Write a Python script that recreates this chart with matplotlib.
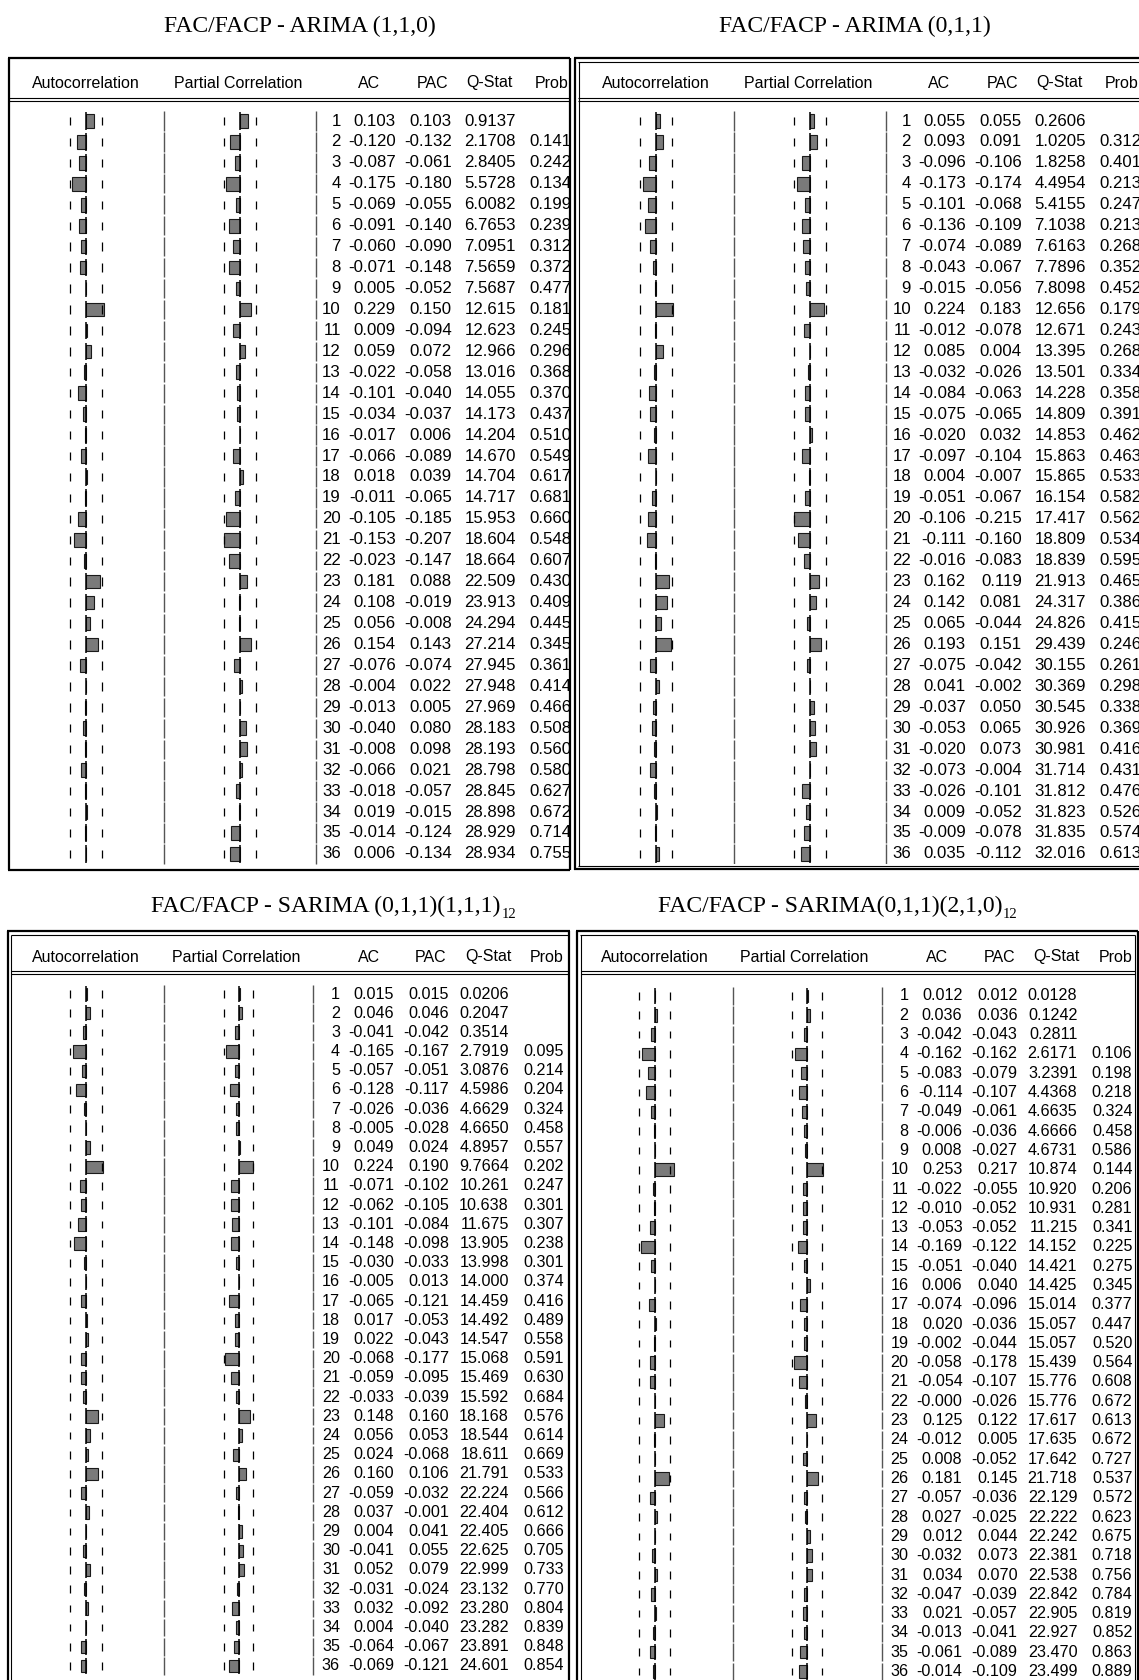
import numpy as np
import matplotlib
matplotlib.use("Agg")
import matplotlib.pyplot as plt

plt.rcParams['font.family'] = 'Liberation Sans'

W, H = 1139, 1680
lags = np.arange(1, 37)

titles = ["FAC/FACP - ARIMA (1,1,0)",
          "FAC/FACP - ARIMA (0,1,1)",
          "FAC/FACP - SARIMA (0,1,1)(1,1,1)",
          "FAC/FACP - SARIMA(0,1,1)(2,1,0)"]
subscripts = ["", "", "12", "12"]
headers = ["Autocorrelation", "Partial Correlation", "AC", "PAC", "Q-Stat", "Prob"]
na = np.nan

# ARIMA (1,1,0)
ac_a = [0.103, -0.120, -0.087, -0.175, -0.069, -0.091, -0.060, -0.071, 0.005, 0.229,
        0.009, 0.059, -0.022, -0.101, -0.034, -0.017, -0.066, 0.018, -0.011, -0.105,
        -0.153, -0.023, 0.181, 0.108, 0.056, 0.154, -0.076, -0.004, -0.013, -0.040,
        -0.008, -0.066, -0.018, 0.019, -0.014, 0.006]
pac_a = [0.103, -0.132, -0.061, -0.180, -0.055, -0.140, -0.090, -0.148, -0.052, 0.150,
         -0.094, 0.072, -0.058, -0.040, -0.037, 0.006, -0.089, 0.039, -0.065, -0.185,
         -0.207, -0.147, 0.088, -0.019, -0.008, 0.143, -0.074, 0.022, 0.005, 0.080,
         0.098, 0.021, -0.057, -0.015, -0.124, -0.134]
q_a = [0.9137, 2.1708, 2.8405, 5.5728, 6.0082, 6.7653, 7.0951, 7.5659, 7.5687, 12.615,
       12.623, 12.966, 13.016, 14.055, 14.173, 14.204, 14.670, 14.704, 14.717, 15.953,
       18.604, 18.664, 22.509, 23.913, 24.294, 27.214, 27.945, 27.948, 27.969, 28.183,
       28.193, 28.798, 28.845, 28.898, 28.929, 28.934]
prob_a = [na, 0.141, 0.242, 0.134, 0.199, 0.239, 0.312, 0.372, 0.477, 0.181,
          0.245, 0.296, 0.368, 0.370, 0.437, 0.510, 0.549, 0.617, 0.681, 0.660,
          0.548, 0.607, 0.430, 0.409, 0.445, 0.345, 0.361, 0.414, 0.466, 0.508,
          0.560, 0.580, 0.627, 0.672, 0.714, 0.755]

# ARIMA (0,1,1)
ac_b = [0.055, 0.093, -0.096, -0.173, -0.101, -0.136, -0.074, -0.043, -0.015, 0.224,
        -0.012, 0.085, -0.032, -0.084, -0.075, -0.020, -0.097, 0.004, -0.051, -0.106,
        -0.111, -0.016, 0.162, 0.142, 0.065, 0.193, -0.075, 0.041, -0.037, -0.053,
        -0.020, -0.073, -0.026, 0.009, -0.009, 0.035]
pac_b = [0.055, 0.091, -0.106, -0.174, -0.068, -0.109, -0.089, -0.067, -0.056, 0.183,
         -0.078, 0.004, -0.026, -0.063, -0.065, 0.032, -0.104, -0.007, -0.067, -0.215,
         -0.160, -0.083, 0.119, 0.081, -0.044, 0.151, -0.042, -0.002, 0.050, 0.065,
         0.073, -0.004, -0.101, -0.052, -0.078, -0.112]
q_b = [0.2606, 1.0205, 1.8258, 4.4954, 5.4155, 7.1038, 7.6163, 7.7896, 7.8098, 12.656,
       12.671, 13.395, 13.501, 14.228, 14.809, 14.853, 15.863, 15.865, 16.154, 17.417,
       18.809, 18.839, 21.913, 24.317, 24.826, 29.439, 30.155, 30.369, 30.545, 30.926,
       30.981, 31.714, 31.812, 31.823, 31.835, 32.016]
prob_b = [na, 0.312, 0.401, 0.213, 0.247, 0.213, 0.268, 0.352, 0.452, 0.179,
          0.243, 0.268, 0.334, 0.358, 0.391, 0.462, 0.463, 0.533, 0.582, 0.562,
          0.534, 0.595, 0.465, 0.386, 0.415, 0.246, 0.261, 0.298, 0.338, 0.369,
          0.416, 0.431, 0.476, 0.526, 0.574, 0.613]

# SARIMA (0,1,1)(1,1,1)12
ac_c = [0.015, 0.046, -0.041, -0.165, -0.057, -0.128, -0.026, -0.005, 0.049, 0.224,
        -0.071, -0.062, -0.101, -0.148, -0.030, -0.005, -0.065, 0.017, 0.022, -0.068,
        -0.059, -0.033, 0.148, 0.056, 0.024, 0.160, -0.059, 0.037, 0.004, -0.041,
        0.052, -0.031, 0.032, 0.004, -0.064, -0.069]
pac_c = [0.015, 0.046, -0.042, -0.167, -0.051, -0.117, -0.036, -0.028, 0.024, 0.190,
         -0.102, -0.105, -0.084, -0.098, -0.033, 0.013, -0.121, -0.053, -0.043, -0.177,
         -0.095, -0.039, 0.160, 0.053, -0.068, 0.106, -0.032, -0.001, 0.041, 0.055,
         0.079, -0.024, -0.092, -0.040, -0.067, -0.121]
q_c = [0.0206, 0.2047, 0.3514, 2.7919, 3.0876, 4.5986, 4.6629, 4.6650, 4.8957, 9.7664,
       10.261, 10.638, 11.675, 13.905, 13.998, 14.000, 14.459, 14.492, 14.547, 15.068,
       15.469, 15.592, 18.168, 18.544, 18.611, 21.791, 22.224, 22.404, 22.405, 22.625,
       22.999, 23.132, 23.280, 23.282, 23.891, 24.601]
prob_c = [na, na, na, 0.095, 0.214, 0.204, 0.324, 0.458, 0.557, 0.202,
          0.247, 0.301, 0.307, 0.238, 0.301, 0.374, 0.416, 0.489, 0.558, 0.591,
          0.630, 0.684, 0.576, 0.614, 0.669, 0.533, 0.566, 0.612, 0.666, 0.705,
          0.733, 0.770, 0.804, 0.839, 0.848, 0.854]

# SARIMA(0,1,1)(2,1,0)12
ac_d = [0.012, 0.036, -0.042, -0.162, -0.083, -0.114, -0.049, -0.006, 0.008, 0.253,
        -0.022, -0.010, -0.053, -0.169, -0.051, 0.006, -0.074, 0.020, -0.002, -0.058,
        -0.054, -0.0, 0.125, -0.012, 0.008, 0.181, -0.057, 0.027, 0.012, -0.032,
        0.034, -0.047, 0.021, -0.013, -0.061, -0.014]
pac_d = [0.012, 0.036, -0.043, -0.162, -0.079, -0.107, -0.061, -0.036, -0.027, 0.217,
         -0.055, -0.052, -0.052, -0.122, -0.040, 0.040, -0.096, -0.036, -0.044, -0.178,
         -0.107, -0.026, 0.122, 0.005, -0.052, 0.145, -0.036, -0.025, 0.044, 0.073,
         0.070, -0.039, -0.057, -0.041, -0.089, -0.109]
q_d = [0.0128, 0.1242, 0.2811, 2.6171, 3.2391, 4.4368, 4.6635, 4.6666, 4.6731, 10.874,
       10.920, 10.931, 11.215, 14.152, 14.421, 14.425, 15.014, 15.057, 15.057, 15.439,
       15.776, 15.776, 17.617, 17.635, 17.642, 21.718, 22.129, 22.222, 22.242, 22.381,
       22.538, 22.842, 22.905, 22.927, 23.470, 23.499]
prob_d = [na, na, na, 0.106, 0.198, 0.218, 0.324, 0.458, 0.586, 0.144,
          0.206, 0.281, 0.341, 0.225, 0.275, 0.345, 0.377, 0.447, 0.520, 0.564,
          0.608, 0.672, 0.613, 0.672, 0.727, 0.537, 0.572, 0.623, 0.675, 0.718,
          0.756, 0.784, 0.819, 0.852, 0.863, 0.889]

series = [(ac_a, pac_a, q_a, prob_a), (ac_b, pac_b, q_b, prob_b),
          (ac_c, pac_c, q_c, prob_c), (ac_d, pac_d, q_d, prob_d)]

# layout of each panel, in pixels of the output image
top_cols = (333, 388, 444, 508, 564)
bot_cols = (332, 386, 441, 501, 556)
top_head = (78, 230, 361, 425, 481, 560)
bot_head = (78, 228, 361, 423, 480, 539)
layouts = [
    dict(x0=8, tx=300, ty=26, head=83, body_top=102, body_bot=867, row1=121, step=20.94,
         clip=569, sep2=308, bound=0.21, cols=top_cols, hcols=top_head, fs=12.1),
    dict(x0=578, tx=855, ty=26, head=83, body_top=102, body_bot=864, row1=121, step=20.94,
         clip=W, sep2=308, bound=0.21, cols=top_cols, hcols=top_head, fs=12.1),
    dict(x0=8, tx=326, ty=906, head=957, body_top=975, body_bot=H, row1=994, step=19.2,
         clip=567, sep2=305, bound=0.2, cols=bot_cols, hcols=bot_head, fs=11.6),
    dict(x0=576.5, tx=830, ty=906, head=957, body_top=975, body_bot=H, row1=996, step=19.3,
         clip=1133, sep2=305, bound=0.2, cols=bot_cols, hcols=bot_head, fs=11.6),
]

fig = plt.figure(figsize=(W / 100, H / 100), dpi=100)
bg = fig.add_axes([0, 0, 1, 1])
bg.set_xlim(0, W)
bg.set_ylim(H, 0)
bg.axis('off')

THICK, THIN = 1.6, 0.8


def hl(x0, x1, y, lw):
    bg.plot([x0, x1], [y, y], color='black', lw=lw, solid_capstyle='butt')


def vl(x, y0, y1, lw):
    bg.plot([x, x], [y0, y1], color='black', lw=lw, solid_capstyle='butt')


# frames
hl(8, 570, 58, THICK); vl(8.5, 58, 870, THICK); vl(569.5, 58, 870, THICK); hl(8, 570, 869.5, THICK)
hl(8, 570, 97.5, THIN); hl(8, 570, 100.5, THIN)

hl(574, W, 58, THICK); hl(578, W, 61.5, THIN)
vl(575, 58, 869.5, THICK); vl(578.5, 61.5, 866, THIN)
hl(574, W, 869, THICK); hl(578, W, 865.5, THIN)
hl(578, W, 97.5, THIN); hl(578, W, 100.5, THIN)

hl(7, 570, 931, THICK); hl(10.5, 569, 934.5, THIN)
vl(7.5, 931, H, THICK); vl(10.5, 934.5, H, THIN); vl(569, 931, H, THICK)
hl(10.5, 569, 970.5, THIN); hl(10.5, 569, 973.5, THIN)

hl(576, 1138, 931, THICK); hl(579.5, 1135, 934.5, THIN)
vl(577, 931, H, THICK); vl(580.5, 934.5, H, THIN)
vl(1137.5, 931, H, THICK); vl(1134.5, 934.5, H, THIN)
hl(580.5, 1134.5, 970.5, THIN); hl(580.5, 1134.5, 973.5, THIN)


def to_fig(x0, y0, x1, y1):
    return [x0 / W, 1 - y1 / H, (x1 - x0) / W, (y1 - y0) / H]


def fmt_q(v):
    return f"{v:.4f}" if v < 10 else f"{v:.3f}"


for k, (title, sub, lay, (ac, pac, q, prob)) in enumerate(zip(titles, subscripts, layouts, series)):
    x0 = lay['x0']
    t = bg.text(lay['tx'], lay['ty'], title, ha='center', va='center', fontsize=17.0,
                family='Liberation Serif')
    if sub:
        bg.annotate(sub, xy=(1, 0.12), xycoords=t, xytext=(0.5, 0), textcoords='offset points',
                    ha='left', va='center', fontsize=10.5, family='Liberation Serif')
    for j, (lab, off) in enumerate(zip(headers, lay['hcols'])):
        ha = 'right' if (j == 5 and k < 2) else 'center'
        bg.text(x0 + off, lay['head'], lab, ha=ha, va='center', fontsize=11.5)

    def lag_at(y):
        return 1 + (y - lay['row1']) / lay['step']

    ylim = (lag_at(lay['body_bot']), lag_at(lay['body_top']))
    body = fig.add_axes(to_fig(x0, lay['body_top'], lay['clip'], lay['body_bot']))
    body.set_xlim(0, lay['clip'] - x0)
    body.set_ylim(*ylim)
    body.axis('off')

    # column separators
    for sx in (156, lay['sep2']):
        body.vlines(np.full(36, sx), lags - 0.46, lags + 0.46, color='#555555', lw=1.0)

    lag_r, ac_r, pac_r, q_r, p_r = lay['cols']
    for i, lag in enumerate(lags):
        kw = dict(ha='right', va='center', fontsize=lay['fs'], clip_on=True)
        body.text(lag_r, lag, str(lag), **kw)
        body.text(ac_r, lag, f"{ac[i]:.3f}", **kw)
        body.text(pac_r, lag, f"{pac[i]:.3f}", **kw)
        body.text(q_r, lag, fmt_q(q[i]), **kw)
        if not np.isnan(prob[i]):
            body.text(p_r, lag, f"{prob[i]:.3f}", **kw)

    # bar graphs for AC and PAC
    for vals, (cx0, cx1) in ((ac, (0, 156)), (pac, (156, lay['sep2']))):
        g = fig.add_axes(to_fig(x0 + cx0, lay['body_top'], x0 + cx1, lay['body_bot']))
        g.set_xlim(-1, 1)
        g.set_ylim(*ylim)
        g.axis('off')
        b = lay['bound']
        g.vlines(np.full(36, -b), lags - 0.2, lags + 0.2, color='black', lw=0.9)
        g.vlines(np.full(36, b), lags - 0.2, lags + 0.2, color='black', lw=0.9)
        g.barh(lags, vals, height=0.65, color='#7a7a7a', edgecolor='#1a1a1a', lw=0.8)
        g.vlines(np.zeros(36), lags - 0.42, lags + 0.42, color='black', lw=1.1)

fig.savefig('out.png', dpi=100)
